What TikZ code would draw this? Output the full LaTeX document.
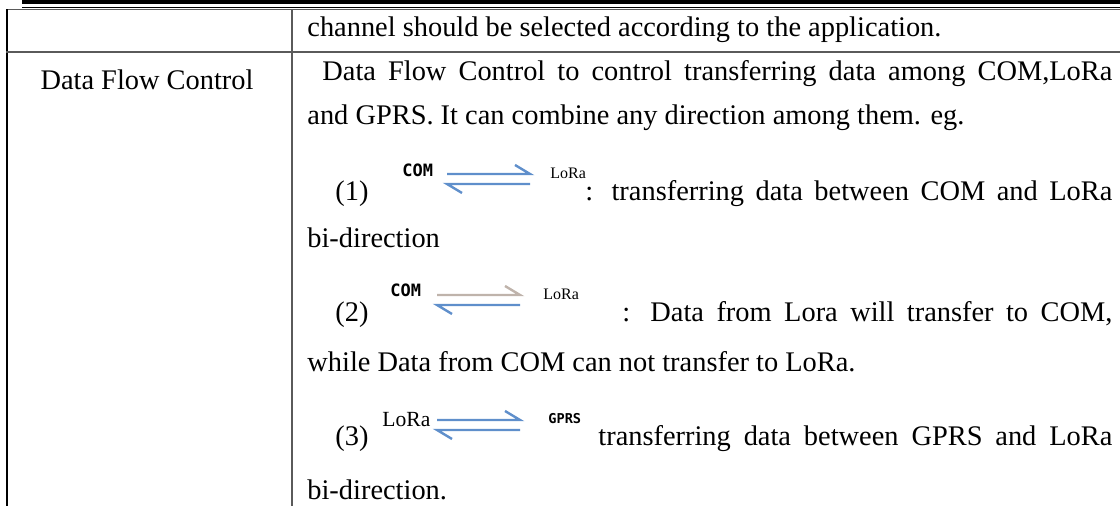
\documentclass[tikz,border=0pt]{standalone}
\usepackage{fontspec}
\setmainfont{Liberation Serif}
\newfontfamily\pixfont{DejaVu Sans Mono}
\usepackage{tikz}
\usetikzlibrary{positioning}
\definecolor{rulegray}{HTML}{5A5A5A}
\definecolor{harpblue}{HTML}{5F8FCB}
\definecolor{harpgray}{HTML}{BFB3AB}
\tikzset{
  line/.style={anchor=base west, inner sep=0pt, font=\fontsize{14.2}{17}\selectfont},
  cell/.style={anchor=base, inner sep=0pt, font=\fontsize{14.2}{17}\selectfont},
  tag/.style={anchor=base west, inner sep=0pt, font=\pixfont\bfseries\fontsize{8.5}{10}\selectfont},
  tagserif/.style={anchor=base west, inner sep=0pt, font=\fontsize{8}{10}\selectfont}
}
\newcommand{\harpoons}[4]{%
  \draw[#3, line width=1.2pt] (#1,#2) -- ++(83,0) -- ++(-15,-9);
  \draw[#4, line width=1.2pt] (#1+83,#2+10) -- ++(-83,0) -- ++(15,9);
}

\begin{document}
\begin{tikzpicture}[x=0.5pt, y=-0.5pt]
\useasboundingbox (0,0) rectangle (1120,506);
\draw[line width=2pt] (22,2) -- (1120,2);
\draw[line width=0.5pt] (22,7.5) -- (1120,7.5);
\draw[rulegray, line width=0.6pt] (6,9.5) -- (1120,9.5);
\draw[line width=1pt] (7,9.5) -- (7,506);
\draw[rulegray, line width=1pt] (292,9.5) -- (292,506);
\draw[rulegray, line width=0.75pt] (6,52) -- (1120,52);

\node[line] (chan) at (307,37) {channel should be selected according to the application.};
\node[cell] (dfc) at (147,90) {Data Flow Control};
\node[line] (dfc1) at (322,81) {\makebox[395pt][s]{Data Flow Control to control transferring data among COM,LoRa}};
\node[line] (dfc2) at (307,125) {and GPRS. It can combine any direction among them. eg.};

\node[line] (n1) at (335,201) {(1)};
\node[tag] (com1) at (402,177) {COM};
\harpoons{447}{174}{harpblue}{harpblue}
\node[tagserif] (lora1) at (550,179) {LoRa};
\node[line] (t1) at (585,201) {\makebox[263.5pt][s]{: transferring data between COM and LoRa}};
\node[line] (b1) at (307,248) {bi-direction};

\node[line] (n2) at (335,322) {(2)};
\node[tag] (com2) at (390,297) {COM};
\harpoons{437}{295}{harpgray}{harpblue}
\node[tagserif] (lora2) at (543,300) {LoRa};
\node[line] (t2) at (622,322) {\makebox[245pt][s]{: Data from Lora will transfer to COM,}};
\node[line] (w2) at (307,372) {while Data from COM can not transfer to LoRa.};

\node[line] (n3) at (335,446) {(3)};
\node[tagserif, font=\fontsize{10.8}{12}\selectfont] (lora3) at (382,427) {LoRa};
\harpoons{437}{420}{harpblue}{harpblue}
\node[tag, font=\pixfont\bfseries\fontsize{6.8}{8}\selectfont] (gprs3) at (548,424) {GPRS};
\node[line] (t3) at (598,446) {\makebox[257pt][s]{transferring data between GPRS and LoRa}};
\node[line] (b3) at (307,500) {bi-direction.};
\end{tikzpicture}
\end{document}
